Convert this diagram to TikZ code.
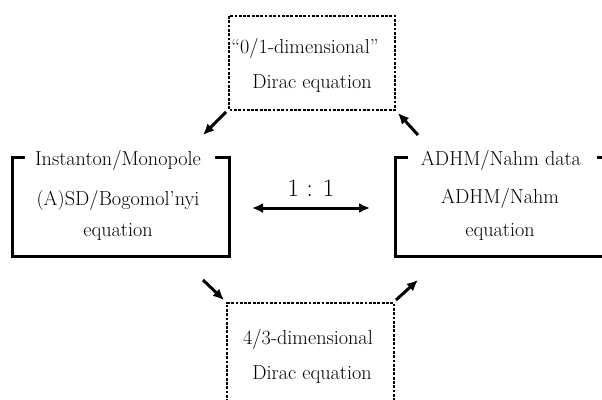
\documentclass[tikz,border=0pt]{standalone}
\usetikzlibrary{arrows.meta}
\begin{document}
\begin{tikzpicture}[x=1pt,y=-1pt]
    \tikzstyle{every node}=[inner sep=0pt, font=\fontsize{20.2}{24}\selectfont, text=black]
    \tikzstyle{frame}=[black, line width=3pt]
    \tikzstyle{dotbox}=[black, line width=2.8pt, dash pattern=on 2.8pt off 1.5pt]
    \tikzstyle{edge}=[black, line width=3pt, -{Latex[length=11pt,width=10pt]}]

    \useasboundingbox (0,0) rectangle (602,399);

    % gauge side
    \node (inst) at (118,160) {Instanton/Monopole};
    \node (asd) at (118,200) {(A)SD/Bogomol'nyi};
    \node (eqa) at (118,232) {equation};
    \draw[frame] (25,157) -- (12,157) -- (12,256) -- (229,256) -- (229,157) -- (215,157);

    % ADHM side
    \node (adhm) at (501,160) {ADHM/Nahm data};
    \node (nahm) at (500,198) {ADHM/Nahm};
    \node (eqb) at (500,232) {equation};
    \draw[frame] (408,157) -- (395,157) -- (395,256) -- (602,256);
    \draw[frame] (597,157) -- (602,157);

    % Dirac boxes
    \node (zero) at (305,48) {``0/1-dimensional''};
    \node (dirz) at (312,84) {Dirac equation};
    \node (four) at (308,339) {4/3-dimensional};
    \node (dirf) at (312,375) {Dirac equation};
    \coordinate (tnw) at (229,16);
    \coordinate (tse) at (395,110);
    \draw[dotbox] (tnw) rectangle (tse);
    \draw[dotbox] (227,402) -- (227,303) -- (394,303) -- (394,402);

    \node (one) at (311,188) {\fontsize{25}{28}\selectfont 1 : 1};
    \coordinate (da) at (252,208);
    \coordinate (db) at (370,208);
    \draw[edge, {Latex[length=11pt,width=10pt]}-{Latex[length=11pt,width=10pt]}] (da) -- (db);

    % arrows round the square
    \coordinate (p1) at (226,112);
    \coordinate (p2) at (203,135);
    \coordinate (p3) at (418,135);
    \coordinate (p4) at (398,113);
    \coordinate (p5) at (203,280);
    \coordinate (p6) at (224,300);
    \coordinate (p7) at (396,300);
    \coordinate (p8) at (418,280);
    \draw[edge] (p1) -- (p2);
    \draw[edge] (p3) -- (p4);
    \draw[edge] (p5) -- (p6);
    \draw[edge] (p7) -- (p8);
\end{tikzpicture}
\end{document}
